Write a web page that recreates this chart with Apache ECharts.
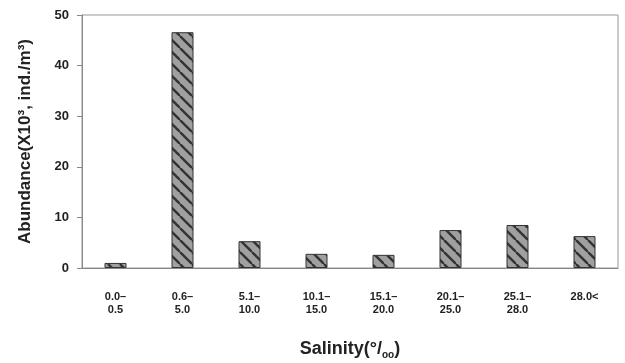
<!DOCTYPE html>
<html><head><meta charset="utf-8">
<script src="https://cdn.jsdelivr.net/npm/echarts@6/dist/echarts.min.js"></script>
<style>html,body{margin:0;padding:0;background:#fff}#c{width:625px;height:363px}</style>
</head><body><div id="c"></div>
<script>
const categories = ['0.0–\n0.5','0.6–\n5.0','5.1–\n10.0','10.1–\n15.0','15.1–\n20.0','20.1–\n25.0','25.1–\n28.0','28.0<'];
const abundance = [1.0, 46.6, 5.3, 2.8, 2.6, 7.5, 8.5, 6.3];
const yTicks = [0, 10, 20, 30, 40, 50];

function makePattern(){
  const c = document.createElement('canvas');
  c.width = 12; c.height = 12;
  const g = c.getContext('2d');
  g.fillStyle = '#a0a0a0';
  g.fillRect(0,0,12,12);
  g.strokeStyle = '#333';
  g.lineWidth = 2.4;
  for (let k=-12;k<=24;k+=12){
    g.beginPath(); g.moveTo(k,0); g.lineTo(k+12,12); g.stroke();
  }
  return c;
}
const chart = echarts.init(document.getElementById('c'));
chart.setOption({
  animation:false,
  grid:{left:82,right:7,top:15,bottom:95,show:true,borderColor:'#999',borderWidth:1,containLabel:false,outerBoundsMode:'none'},
  xAxis:{
    type:'category',data:categories,
    axisLine:{lineStyle:{color:'#888'}},
    axisTick:{alignWithLabel:true,length:5,lineStyle:{color:'#888'}},
    axisLabel:{color:'#222',fontFamily:'Liberation Sans',fontWeight:'bold',fontSize:11,lineHeight:13,margin:22,interval:0},
    name:'{a|Salinity(°/}{b|oo}{a|)}',nameLocation:'middle',nameGap:70,
    nameTextStyle:{rich:{a:{fontFamily:'Liberation Sans',fontWeight:'bold',fontSize:18,color:'#222'},b:{fontFamily:'Liberation Sans',fontWeight:'bold',fontSize:10,color:'#222',padding:[12,0,0,0]}}}
  },
  yAxis:{
    type:'value',min:yTicks[0],max:yTicks[yTicks.length-1],interval:10,
    splitLine:{show:false},
    axisLine:{show:true,lineStyle:{color:'#888'}},
    axisTick:{show:true,length:5,lineStyle:{color:'#888'}},
    axisLabel:{color:'#222',fontFamily:'Liberation Sans',fontWeight:'bold',fontSize:13,margin:13},
    name:'Abundance(X10³, ind./m³)',nameLocation:'middle',nameGap:48,
    nameTextStyle:{fontFamily:'Liberation Sans',fontWeight:'bold',fontSize:17,color:'#222'}
  },
  series:[{
    type:'bar',data:abundance,barWidth:22,
    itemStyle:{color:{image:makePattern(),repeat:'repeat'},borderColor:'#333',borderWidth:1}
  }]
});
</script></body></html>
